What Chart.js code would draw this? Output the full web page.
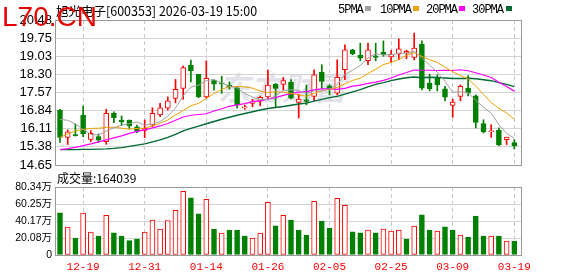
<!DOCTYPE html>
<html><head><meta charset="utf-8">
<script src="https://cdn.jsdelivr.net/npm/chart.js@4.4.1/dist/chart.umd.min.js"></script>
<style>
html,body{margin:0;padding:0;background:#fff;}
#wrap{position:relative;width:578px;height:276px;overflow:hidden;background:#fff;}
canvas{position:absolute;left:0;top:0;}
.t{position:absolute;white-space:nowrap;line-height:1;}
.sw{position:absolute;width:6px;height:5px;top:6px;}
</style></head><body>
<div id="wrap">
<div class="t" style="left:218px;top:70px;font:italic bold 32px 'Noto Sans CJK SC';line-height:32px;color:#e2e2ea;">东方财富</div>
<canvas id="pc" width="578" height="276"></canvas>
<canvas id="vc" width="578" height="276"></canvas>
<div class="t" style="left:56px;top:1px;font:12.5px 'Noto Sans CJK SC';color:#000">旭光电子[600353] 2026-03-19 15:00</div>
<div class="t" style="left:338px;top:3px;font:12px 'Liberation Mono';letter-spacing:-1px;color:#000">5PMA</div>
<div class="sw" style="left:365px;background:#a0a0a0"></div>
<div class="t" style="left:380px;top:3px;font:12px 'Liberation Mono';letter-spacing:-1px;color:#000">10PMA</div>
<div class="sw" style="left:413px;background:#f0a000"></div>
<div class="t" style="left:426px;top:3px;font:12px 'Liberation Mono';letter-spacing:-1px;color:#000">20PMA</div>
<div class="sw" style="left:459px;background:#ff00ff"></div>
<div class="t" style="left:472px;top:3px;font:12px 'Liberation Mono';letter-spacing:-1px;color:#000">30PMA</div>
<div class="sw" style="left:506px;background:#006a33"></div>
<div class="t" style="left:57px;top:169px;font:12px 'Noto Sans CJK SC';color:#000">成交量:164039</div>
<div class="t" style="left:2px;top:1px;font:28px 'Liberation Sans';color:#e60000">L70.CN</div>
</div>
<script>
const dates = ['12-16','12-17','12-18','12-19','12-22','12-23','12-24','12-25','12-26','12-29','12-30','12-31',
'01-05','01-06','01-07','01-08','01-09','01-12','01-13','01-14','01-15','01-16','01-19','01-20','01-21','01-22','01-23','01-26','01-27','01-28','01-29','01-30',
'02-02','02-03','02-04','02-05','02-06','02-09','02-10','02-11','02-12','02-13','02-24','02-25','02-26','02-27',
'03-02','03-03','03-04','03-05','03-06','03-09','03-10','03-11','03-12','03-13','03-16','03-17','03-18','03-19'];
const openP = [16.86,15.76,15.87,16.66,15.68,15.79,15.59,16.73,16.46,16.46,16.18,16.04,16.26,16.66,16.93,17.33,17.73,18.67,18.30,17.39,
18.04,17.93,17.86,17.75,16.95,17.13,17.22,17.39,17.90,17.89,17.98,17.17,17.27,17.41,18.38,17.83,17.54,18.48,19.28,19.06,
18.84,19.04,19.19,19.00,19.11,19.15,18.98,19.51,17.94,18.14,17.71,17.05,17.41,17.74,17.43,16.32,15.98,16.04,15.67,15.55];
const highP = [16.89,16.06,16.30,17.02,16.03,15.90,16.89,16.79,16.62,16.46,16.26,16.46,16.95,17.13,17.39,18.09,18.63,18.87,18.30,18.84,
18.06,18.22,17.99,17.79,17.06,17.29,17.42,18.47,17.93,18.17,18.08,17.50,17.87,18.48,18.68,17.87,18.88,19.48,19.30,19.55,
19.55,19.55,19.64,19.26,19.72,19.26,19.95,19.64,18.30,18.28,17.81,17.30,17.87,18.25,17.47,16.47,16.27,16.14,15.77,15.67];
const lowP = [15.56,15.47,15.81,15.79,15.59,15.55,15.48,16.35,16.24,16.12,15.95,15.75,16.19,16.59,16.86,17.15,17.29,17.99,17.35,17.33,
17.66,17.53,17.70,16.93,16.89,16.99,17.03,17.33,16.99,17.66,17.30,16.54,17.07,17.23,17.71,17.47,17.47,18.08,19.08,18.84,
18.68,18.84,19.02,18.76,18.88,18.92,18.88,17.67,17.63,17.63,17.23,16.57,17.23,17.43,16.14,15.94,15.76,15.43,15.47,15.30];
const closeP = [15.76,15.98,15.83,15.91,15.92,15.65,16.73,16.55,16.38,16.22,16.00,16.12,16.73,16.95,17.23,17.69,18.57,18.44,17.39,18.13,
17.90,17.91,17.79,17.06,16.99,17.19,17.37,17.86,17.73,18.04,17.34,17.30,17.21,18.28,18.01,17.71,18.17,19.28,19.12,18.95,
19.28,18.98,19.08,19.10,19.32,19.22,19.35,17.74,17.71,17.87,17.38,17.18,17.81,17.54,16.36,15.98,16.01,15.47,15.77,15.43];
const ma5 = [16.48,16.45,16.30,16.08,15.88,15.86,16.01,16.15,16.25,16.31,16.38,16.25,16.29,16.40,16.61,16.94,17.43,17.78,17.86,18.04,
18.09,17.95,17.82,17.75,17.53,17.38,17.28,17.29,17.43,17.64,17.67,17.65,17.52,17.63,17.63,17.70,17.88,18.29,18.46,18.65,
18.96,19.12,19.08,19.08,19.15,19.14,19.21,18.95,18.67,18.38,18.01,17.58,17.59,17.56,17.25,16.97,16.74,16.27,15.92,15.73];
const ma10 = [15.76,15.90,16.02,16.08,16.12,16.13,16.16,16.17,16.13,16.09,16.12,16.13,16.22,16.33,16.46,16.66,16.84,17.03,17.13,17.33,
17.52,17.69,17.80,17.81,17.79,17.74,17.62,17.56,17.59,17.58,17.53,17.47,17.41,17.53,17.63,17.69,17.77,17.91,18.05,18.14,
18.33,18.50,18.69,18.77,18.90,19.06,19.17,19.02,18.88,18.77,18.58,18.40,18.25,18.11,17.82,17.49,17.16,16.93,16.74,16.49];
const ma20 = [15.27,15.31,15.36,15.43,15.50,15.58,15.66,15.74,15.82,15.92,16.00,16.06,16.14,16.22,16.32,16.45,16.58,16.65,16.68,16.71,
16.82,16.91,17.01,17.07,17.12,17.20,17.23,17.30,17.36,17.45,17.52,17.58,17.60,17.67,17.71,17.71,17.69,17.73,17.82,17.86,
17.93,17.98,18.05,18.15,18.27,18.37,18.47,18.46,18.46,18.45,18.46,18.45,18.48,18.44,18.36,18.27,18.17,17.98,17.81,17.62];
const ma30 = [15.27,15.27,15.27,15.28,15.28,15.29,15.30,15.32,15.35,15.40,15.45,15.50,15.58,15.66,15.76,15.88,16.02,16.12,16.21,16.31,
16.40,16.49,16.57,16.65,16.72,16.79,16.86,16.92,16.96,17.00,17.05,17.10,17.14,17.22,17.29,17.36,17.41,17.50,17.59,17.68,
17.79,17.89,17.96,18.04,18.11,18.16,18.19,18.16,18.18,18.17,18.15,18.13,18.13,18.14,18.12,18.08,18.04,17.96,17.89,17.80];
const volume = [49.8,32.9,20.0,49.4,27.0,22.3,47.0,26.3,22.3,16.9,18.8,27.0,41.2,30.6,40.8,52.9,75.2,67.4,48.6,65.8,
30.6,25.9,29.4,29.4,22.3,20.0,25.9,62.3,34.5,47.0,41.2,29.4,23.5,63.5,40.0,31.7,67.0,58.8,27.4,26.3,
29.4,26.3,30.6,28.2,29.4,18.8,34.1,47.4,29.4,28.2,33.3,29.4,23.5,21.2,45.9,22.3,22.3,22.3,16.5,16.4];
const priceTicks = ['14.65','15.38','16.11','16.84','17.57','18.30','19.03','19.75','20.48'];
const volTicks = ['0','20.08万','40.17万','60.25万','80.34万'];

const RED = '#ff0000', GRN = '#008000';
const tickIdx = dates.map((d, i) => i).filter(i => i % 8 === 3);
const candleUp = i => closeP[i] >= openP[i];
const volUp = i => i === 0 ? closeP[0] >= openP[0] : closeP[i] >= closeP[i - 1];
const pts = arr => arr.map((v, i) => ({x: i, y: v}));

function xScale(showLabels, h) {
  return {
    type: 'linear', min: -0.65, max: 60.0, offset: false,
    afterBuildTicks: s => { s.ticks = tickIdx.map(v => ({value: v})); },
    afterFit: s => { s.height = h; },
    ticks: {display: showLabels, autoSkip: false, maxRotation: 0, padding: 5, color: '#ff0000',
      font: {family: 'Liberation Mono', size: 11}, callback: v => dates[v]},
    grid: {color: '#c8c8c8', drawTicks: false, lineWidth: 1, offset: false},
    border: {display: false, dash: [4, 3]}
  };
}
const frame = {
  id: 'frame',
  afterDraw(chart) {
    const a = chart.chartArea, c = chart.ctx;
    c.save(); c.strokeStyle = '#999'; c.lineWidth = 1;
    c.strokeRect(Math.round(a.left) + 0.5, Math.round(a.top) + 0.5,
      Math.round(a.right - a.left) - 1, Math.round(a.bottom - a.top));
    c.restore();
  }
};
const line = (data, color, w) => ({type: 'line', data: pts(data), borderColor: color, borderWidth: w,
  pointRadius: 0, tension: 0, fill: false});

const pMin = +priceTicks[0], pMax = +priceTicks[priceTicks.length - 1];
new Chart(document.getElementById('pc'), {
  type: 'bar',
  data: {datasets: [
    line(ma5, '#a0a0a0', 1),
    line(ma10, '#f0a000', 1),
    line(ma20, '#ff00ff', 1.2),
    line(ma30, '#006a33', 1.4),
    {data: dates.map((d, i) => ({x: i, y: [openP[i], closeP[i]]})), barThickness: 5, grouped: false,
      minBarLength: 1, borderWidth: 1, borderSkipped: false,
      backgroundColor: c => candleUp(c.dataIndex) ? '#ffffff' : GRN,
      borderColor: c => candleUp(c.dataIndex) ? RED : GRN},
    {data: dates.map((d, i) => ({x: i, y: [lowP[i], highP[i]]})), barThickness: 1, grouped: false,
      borderWidth: 0, backgroundColor: c => candleUp(c.dataIndex) ? RED : GRN}
  ]},
  options: {
    responsive: false, animation: false, devicePixelRatio: 1, events: [],
    layout: {padding: {left: 0, right: 56, top: 20, bottom: 111}},
    plugins: {legend: {display: false}, tooltip: {enabled: false}},
    scales: {
      x: xScale(false, 0),
      y: {position: 'left', min: pMin, max: pMax, beginAtZero: false,
        afterBuildTicks: s => { s.ticks = priceTicks.map((t, k) => ({value: pMin + k * (pMax - pMin) / (priceTicks.length - 1)})); },
        afterFit: s => { s.width = 55; },
        ticks: {autoSkip: false, padding: 3, color: '#000', font: {family: 'Liberation Sans', size: 13}, callback: (v, i) => priceTicks[i]},
        grid: {color: '#d4d4d4', drawTicks: false}, border: {display: false}}
    }
  },
  plugins: [frame]
});

const vMax = parseFloat(volTicks[volTicks.length - 1]);
new Chart(document.getElementById('vc'), {
  type: 'bar',
  data: {datasets: [
    {data: volume.map((v, i) => ({x: i, y: v})), barThickness: 5, grouped: false, borderWidth: 1, borderSkipped: false,
      backgroundColor: c => volUp(c.dataIndex) ? '#ffffff' : GRN,
      borderColor: c => volUp(c.dataIndex) ? RED : GRN}
  ]},
  options: {
    responsive: false, animation: false, devicePixelRatio: 1, events: [],
    layout: {padding: {left: 0, right: 56, top: 187, bottom: 0}},
    plugins: {legend: {display: false}, tooltip: {enabled: false}},
    scales: {
      x: xScale(true, 21),
      y: {position: 'left', min: 0, max: vMax,
        afterBuildTicks: s => { s.ticks = volTicks.map((t, k) => ({value: k * vMax / (volTicks.length - 1)})); },
        afterFit: s => { s.width = 55; },
        ticks: {autoSkip: false, padding: 3, color: '#000', font: {family: "'Liberation Sans','Noto Sans CJK SC'", size: 10.5}, callback: (v, i) => volTicks[i]},
        grid: {color: '#d4d4d4', drawTicks: false}, border: {display: false}}
    }
  },
  plugins: [frame]
});
</script>
</body></html>
